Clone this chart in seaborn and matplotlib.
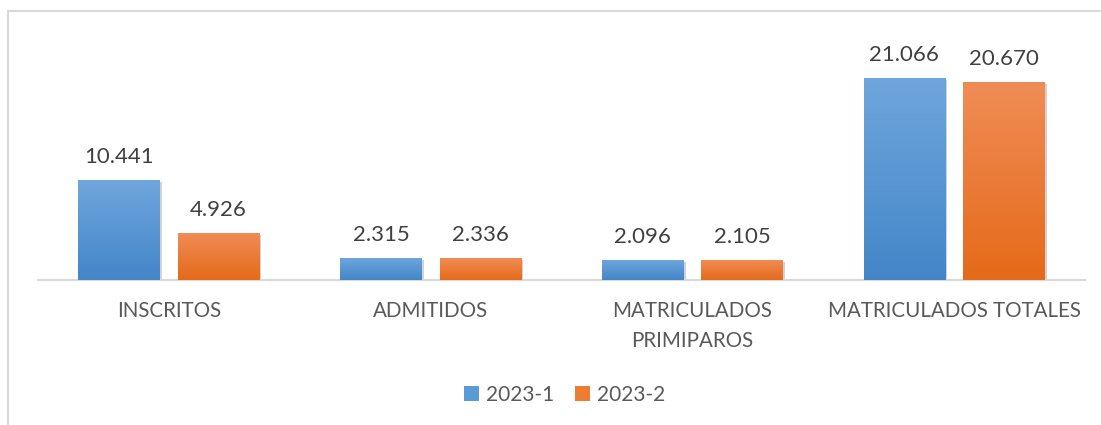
import numpy as np
import pandas as pd
import matplotlib
matplotlib.use("Agg")
import matplotlib.pyplot as plt
import matplotlib.patheffects as pe
from matplotlib.colors import LinearSegmentedColormap
from matplotlib.patches import Patch, Rectangle
import seaborn as sns

# Data
categorias = ["INSCRITOS", "ADMITIDOS", "MATRICULADOS\nPRIMIPAROS", "MATRICULADOS TOTALES"]
periodos = ["2023-1", "2023-2"]
valores_2023_1 = [10441, 2315, 2096, 21066]
valores_2023_2 = [4926, 2336, 2105, 20670]

# top / bottom colours of the gradient fill for each series
grad_colors = {
    "2023-1": ("#70A6DD", "#4386C8"),
    "2023-2": ("#F08D57", "#E56A19"),
}
legend_colors = {"2023-1": "#5B9BD5", "2023-2": "#ED7D31"}

df = pd.DataFrame({
    "categoria": categorias * 2,
    "periodo": [periodos[0]] * 4 + [periodos[1]] * 4,
    "valor": valores_2023_1 + valores_2023_2,
})

sns.set_style("white")
plt.rcParams["font.family"] = ["Lato", "DejaVu Sans"]

W, H = 1101, 425
fig = plt.figure(figsize=(W / 100, H / 100), dpi=100)
ymax = 23000
ax_h = ymax * 0.00959 / H
ax = fig.add_axes([38 / W, 145 / H, 1047 / W, ax_h])

sns.barplot(
    data=df, x="categoria", y="valor", hue="periodo",
    palette=legend_colors, width=0.76, gap=0.18,
    legend=False, ax=ax, saturation=1,
)
ax.set_ylim(0, ymax)
xlim = ax.get_xlim()

shadow = [pe.withSimplePatchShadow(offset=(1.5, -1.5), shadow_rgbFace="#7f7f7f", alpha=0.35), pe.Normal()]

# gradient fill on each bar + value labels
for periodo, container in zip(periodos, ax.containers):
    top, bottom = grad_colors[periodo]
    cmap = LinearSegmentedColormap.from_list(periodo, [bottom, top])
    grad = np.linspace(0, 1, 256).reshape(-1, 1)
    for bar in container:
        bar.set_path_effects(shadow)
        bar.set_edgecolor("none")
        x0, x1 = bar.get_x(), bar.get_x() + bar.get_width()
        y0, y1 = bar.get_y(), bar.get_y() + bar.get_height()
        im = ax.imshow(grad, extent=(x0, x1, y0, y1), origin="lower",
                       aspect="auto", cmap=cmap, zorder=3)
        im.set_clip_path(bar)
        ax.annotate(f"{int(y1):,}".replace(",", "."),
                    xy=((x0 + x1) / 2, y1), xytext=(0, 12),
                    textcoords="offset points", ha="center", va="baseline",
                    fontsize=16, color="#404040")

ax.set_xlim(xlim)
ax.set_ylim(0, ymax)

ax.set_xlabel("")
ax.set_ylabel("")
ax.set_yticks([])
ax.tick_params(axis="x", length=0, pad=15, labelsize=14.8, labelcolor="#595959")
for lbl in ax.get_xticklabels():
    lbl.set_linespacing(1.65)
for side in ["top", "right", "left"]:
    ax.spines[side].set_visible(False)
ax.spines["bottom"].set_color("#D9D9D9")
ax.spines["bottom"].set_linewidth(1.5)

# legend
handles = [Patch(facecolor=legend_colors[p], edgecolor="none") for p in periodos]
fig.legend(handles, periodos, loc="center", bbox_to_anchor=(565 / W, 1 - 395 / H),
           ncol=2, frameon=False, fontsize=15, labelcolor="#595959",
           handlelength=0.7, handleheight=0.7, handletextpad=0.35, columnspacing=1.0)

# chart area border (top and left visible)
fig.patches.append(Rectangle((8 / W, -0.1), 1.2, 1 - 11 / H + 0.1, transform=fig.transFigure,
                             fill=False, edgecolor="#D9D9D9", linewidth=1.5))

fig.savefig("out.png", dpi=100)
